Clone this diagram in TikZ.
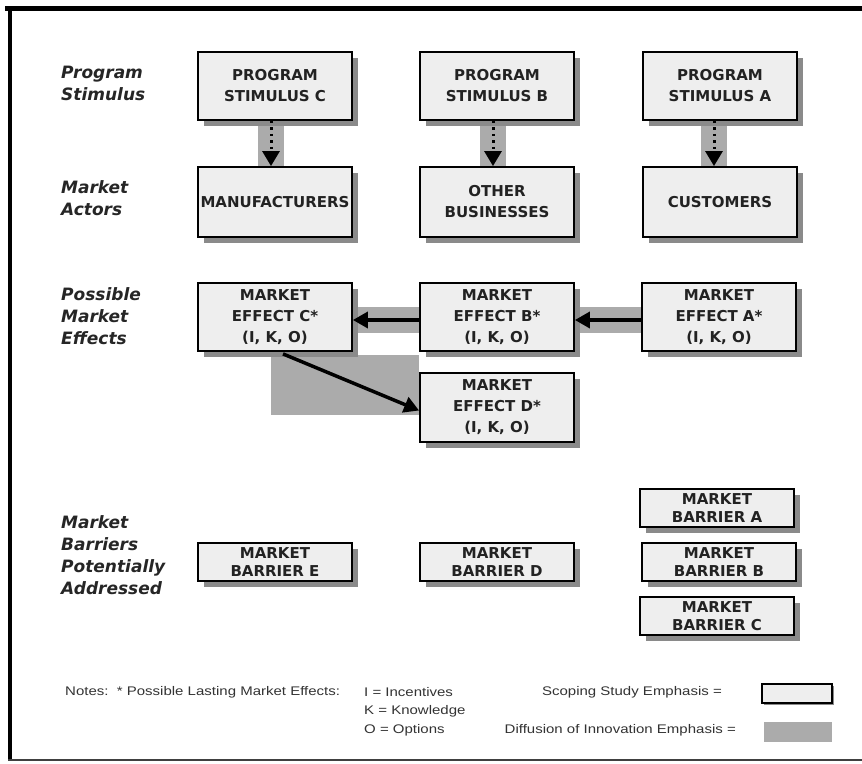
\documentclass[tikz,border=0pt]{standalone}
\usepackage{fontspec}
\setmainfont{Liberation Sans}
\newfontfamily\boxfont{DejaVu Sans}
\usetikzlibrary{arrows.meta,shadows,backgrounds}
\definecolor{boxfill}{HTML}{EEEEEE}
\definecolor{bandgray}{HTML}{ABABAB}
\definecolor{shadowgray}{HTML}{8A8A8A}
\definecolor{txt}{HTML}{222222}
\begin{document}
\begin{tikzpicture}[x=1pt,y=-1pt,
  mbox/.style={draw=black, line width=1.8pt, fill=boxfill, minimum width=154pt,
    minimum height=68pt, inner sep=0pt, align=center, text=txt,
    font=\boxfont\bfseries\fontsize{15}{21}\selectfont,
    drop shadow={shadow xshift=6pt, shadow yshift=-6pt, fill=shadowgray, opacity=1}},
  barbox/.style={mbox, minimum height=38pt, font=\boxfont\bfseries\fontsize{15}{18}\selectfont},
  rowlabel/.style={anchor=west, align=left, text=black!85, inner sep=0pt,
    font=\boxfont\bfseries\itshape\fontsize{17}{22}\selectfont},
  notetext/.style={inner sep=0pt, text=black!80, font=\fontsize{12.5}{15}\selectfont},
  band/.style={fill=bandgray},
  dotarrow/.style={line width=3pt, black, dash pattern=on 2.5pt off 4pt,
    -{Triangle[length=15pt,width=17pt]}},
  thickarrow/.style={line width=3.5pt, black, -{Triangle[length=15pt,width=16pt]}}
]
\useasboundingbox (0,0) rectangle (862,763);

% frame
\draw[line width=5pt, black] (5,8.5) -- (862,8.5);
\draw[line width=4.5pt, black] (10,6) -- (10,761);
\draw[line width=1.5pt, black!75] (8,760) -- (862,760);

% row labels
\node[rowlabel] (l1) at (61,83) {Program\\Stimulus};
\node[rowlabel] (l2) at (61,198) {Market\\Actors};
\node[rowlabel] (l3) at (61,316) {Possible\\Market\\Effects};
\node[rowlabel] (l4) at (61,555) {Market\\Barriers\\Potentially\\Addressed};

% program stimulus
\node[mbox] (psc) at (275,86) {PROGRAM\\STIMULUS C};
\node[mbox] (psb) at (497,86) {PROGRAM\\STIMULUS B};
\node[mbox] (psa) at (720,86) {PROGRAM\\STIMULUS A};

% market actors
\node[mbox, minimum height=70pt] (mac) at (275,202) {MANUFACTURERS};
\node[mbox, minimum height=70pt] (mab) at (497,202) {OTHER\\BUSINESSES};
\node[mbox, minimum height=70pt] (maa) at (720,202) {CUSTOMERS};

% market effects
\node[mbox] (mec) at (275,317) {MARKET\\EFFECT C*\\(I, K, O)};
\node[mbox] (meb) at (497,317) {MARKET\\EFFECT B*\\(I, K, O)};
\node[mbox] (mea) at (719,317) {MARKET\\EFFECT A*\\(I, K, O)};
\node[mbox, minimum height=69pt] (med) at (497,407.5) {MARKET\\EFFECT D*\\(I, K, O)};

% barriers
\node[barbox] (mbe) at (275,562) {MARKET\\BARRIER E};
\node[barbox] (mbd) at (497,562) {MARKET\\BARRIER D};
\node[barbox] (mba) at (717,508) {MARKET\\BARRIER A};
\node[barbox] (mbb) at (719,562) {MARKET\\BARRIER B};
\node[barbox] (mbcc) at (717,616) {MARKET\\BARRIER C};

% gray emphasis bands
\begin{scope}[on background layer]
  \fill[white] (0,0) rectangle (862,763);
  \fill[band] ([xshift=-17pt]psc.south) rectangle ([xshift=9pt]mac.north);
  \fill[band] ([xshift=-17pt]psb.south) rectangle ([xshift=9pt]mab.north);
  \fill[band] ([xshift=-19pt]psa.south) rectangle ([xshift=7pt]maa.north);
  \fill[band] ([yshift=10pt]mec.east) rectangle ([yshift=-16pt]meb.west);
  \fill[band] ([yshift=10pt]meb.east) rectangle ([yshift=-16pt]mea.west);
  \fill[band] (271,355) rectangle (med.west |- 0,415);
\end{scope}

% arrows
\draw[dotarrow] ([xshift=-4pt]psc.south) -- ([xshift=-4pt]mac.north);
\draw[dotarrow] ([xshift=-4pt]psb.south) -- ([xshift=-4pt]mab.north);
\draw[dotarrow] ([xshift=-6pt]psa.south) -- ([xshift=-6pt]maa.north);
\draw[thickarrow] ([yshift=-3pt]meb.west) -- ([yshift=-3pt]mec.east);
\draw[thickarrow] ([yshift=-3pt]mea.west) -- ([yshift=-3pt]meb.east);
\draw[thickarrow] ([xshift=8pt,yshift=-2pt]mec.south) -- ([yshift=-3pt]med.west);

% notes
\node[notetext, anchor=west] (n1) at (65,692) {\scalebox{1.2}[1]{Notes:\ \ * Possible Lasting Market Effects:}};
\node[notetext, anchor=west] (n2) at (364,692) {\scalebox{1.2}[1]{I\ = Incentives}};
\node[notetext, anchor=west] (n3) at (364,711) {\scalebox{1.2}[1]{K = Knowledge}};
\node[notetext, anchor=west] (n4) at (364,730) {\scalebox{1.2}[1]{O = Options}};
\node[notetext, anchor=east] (n5) at (722,692) {\scalebox{1.2}[1]{Scoping Study Emphasis =}};
\node[notetext, anchor=east] (n6) at (736,730) {\scalebox{1.2}[1]{Diffusion of Innovation Emphasis =}};

% legend swatches
\node[draw=black, line width=1.8pt, fill=boxfill, minimum width=70pt, minimum height=19pt,
  inner sep=0pt, drop shadow={shadow xshift=2pt, shadow yshift=-2pt, fill=shadowgray, opacity=1}] (lg1) at (797,693.5) {};
\node[fill=bandgray, minimum width=68pt, minimum height=20pt, inner sep=0pt] (lg2) at (798,732) {};
\end{tikzpicture}
\end{document}
